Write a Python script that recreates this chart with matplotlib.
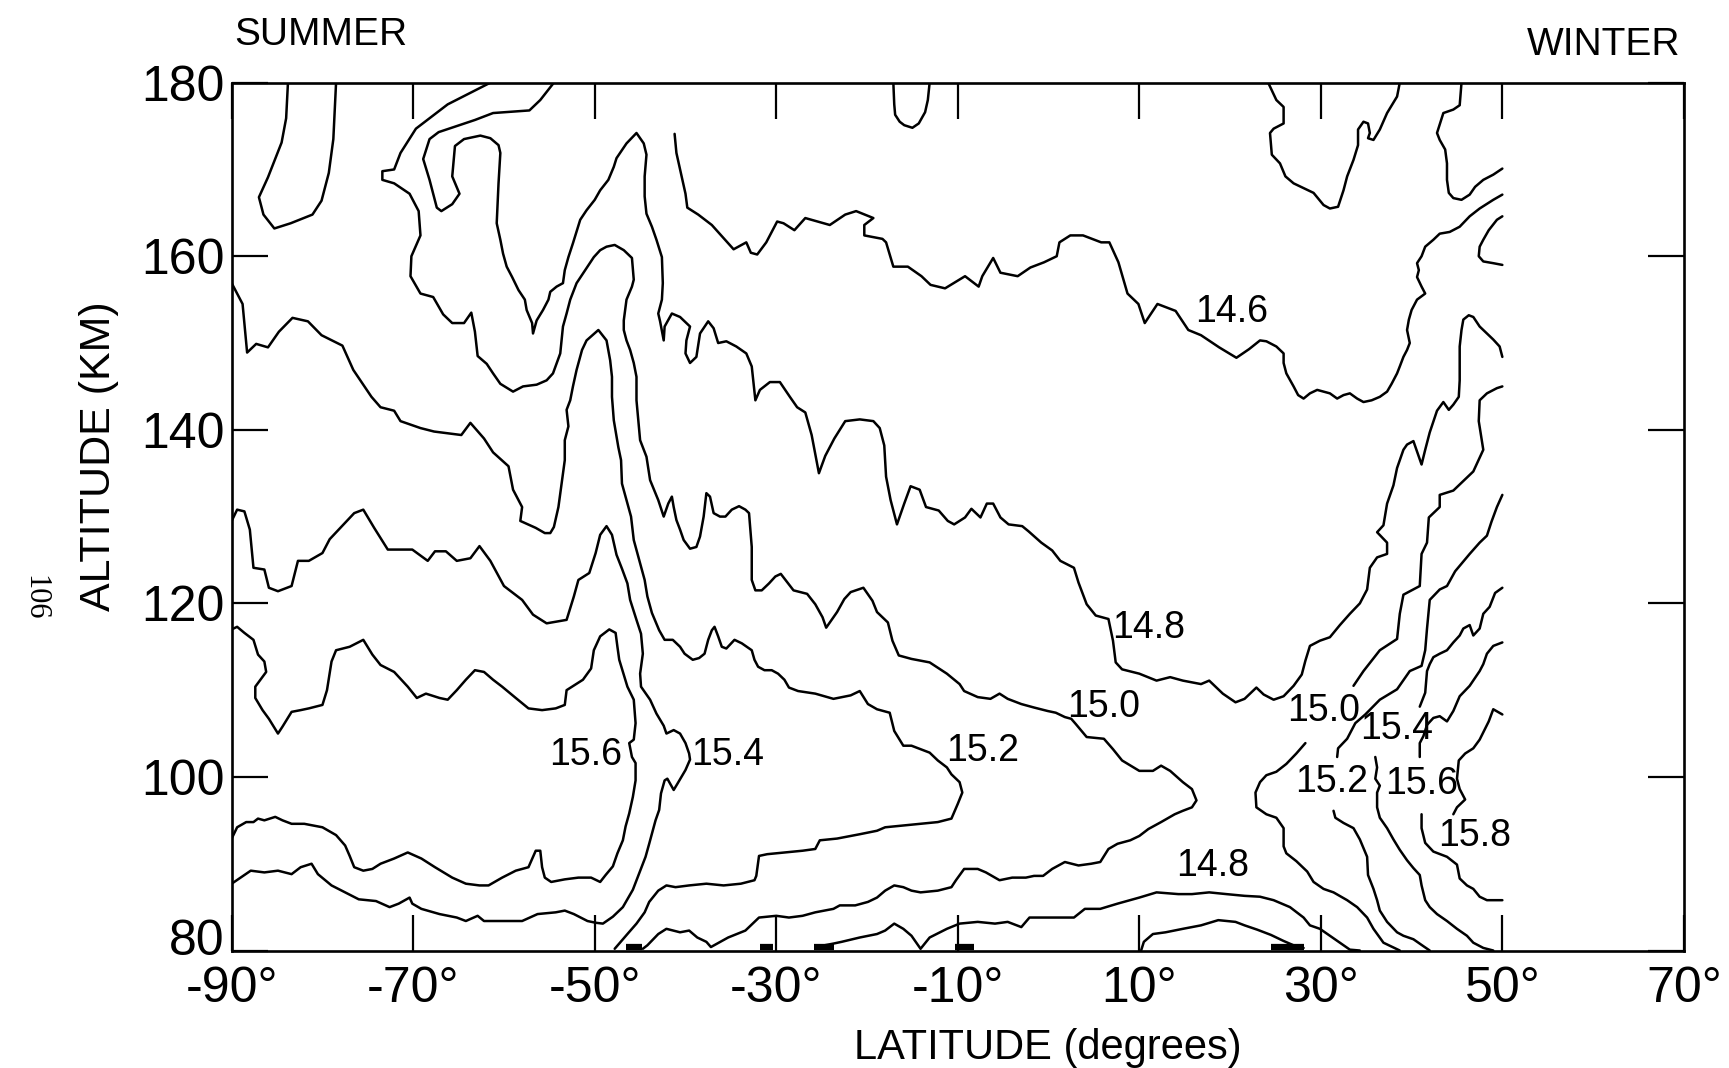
import matplotlib
matplotlib.use("Agg")
import matplotlib.pyplot as plt
import matplotlib.transforms as mtransforms

# ─── Contour traces (latitude deg, altitude km) ───────────────────────────

loop_top_left = [(-83.8, 180), (-84.0, 175.9), (-84.5, 173.1), (-86.0, 169.1), (-87.0, 166.8),
                 (-86.5, 164.8), (-85.3, 163.2), (-83.5, 163.8), (-81.1, 164.8), (-80.1, 166.4),
                 (-79.3, 169.6), (-78.8, 173.5), (-78.5, 180)]

loop_top_mid = [(-17.1, 180), (-17.0, 177.5), (-16.9, 176.3), (-16.4, 175.5), (-15.9, 175.1),
                (-15.0, 174.8), (-14.3, 175.3), (-13.6, 176.6), (-13.3, 178.0), (-13.1, 180)]

loop_top_30 = [(24.2, 180), (25.1, 178.0), (25.9, 177.2), (25.9, 175.3), (24.8, 174.7), (24.4, 174.2),
               (24.6, 171.7), (25.5, 170.7), (26.1, 169.2), (27.0, 168.4), (29.2, 167.3), (30.3, 165.9),
               (31.0, 165.5), (31.9, 165.7), (32.5, 167.6), (32.9, 169.2), (33.6, 171.1), (34.1, 172.8),
               (34.1, 174.6), (34.7, 175.5), (35.2, 175.3), (35.4, 174.2), (35.2, 173.6), (35.8, 173.4),
               (36.5, 174.6), (37.3, 176.5), (38.4, 178.4), (38.7, 180)]

loop_top_45 = [(45.5, 180), (45.3, 177.4), (44.6, 176.9), (43.5, 176.5), (42.8, 174.2), (43.1, 173.4),
               (43.7, 172.3), (43.9, 170.7), (43.9, 168.8), (44.1, 167.3), (44.6, 166.7), (45.5, 166.5),
               (46.4, 167.1), (47.0, 168.0), (47.9, 168.8), (49.0, 169.4), (50.0, 170.1)]

hook_50 = [(50.0, 164.6), (49.4, 164.2), (48.5, 163.0), (47.9, 161.9), (47.5, 161.1), (47.4, 160.0),
           (47.9, 159.4), (49.0, 159.2), (50.0, 159.0)]

c146 = [(-41.2, 174.1), (-41.0, 171.9), (-40.0, 167.2), (-39.8, 165.6), (-38.6, 164.8), (-37.1, 163.6),
        (-34.7, 160.8), (-33.3, 161.6), (-32.8, 160.4), (-32.1, 160.2), (-31.1, 161.6), (-29.9, 164.0),
        (-29.2, 163.8), (-28.0, 163.0), (-26.8, 164.4), (-24.1, 163.6), (-22.4, 164.8), (-21.2, 165.2),
        (-19.3, 164.4), (-20.3, 163.6), (-20.3, 162.4), (-18.3, 162.0), (-17.9, 161.6), (-17.1, 158.8),
        (-15.5, 158.8), (-14.0, 157.7), (-13.0, 156.7), (-11.4, 156.3), (-9.2, 157.7), (-7.7, 156.5),
        (-7.3, 157.7), (-6.1, 159.8), (-5.3, 158.1), (-3.4, 157.7), (-2.0, 158.7), (-0.5, 159.3),
        (0.9, 160.0), (1.2, 161.6), (2.4, 162.4), (3.8, 162.4), (5.8, 161.6), (6.7, 161.6), (7.7, 159.3),
        (8.7, 155.7), (9.9, 154.5), (10.6, 152.3), (12.0, 154.5), (14.0, 153.7), (15.4, 151.5),
        (16.8, 150.9), (18.8, 149.5), (20.7, 148.3), (22.1, 149.3), (23.3, 150.3), (24.0, 150.2),
        (25.1, 149.6), (25.9, 148.8), (25.9, 147.7), (26.2, 146.5), (27.0, 145.0), (27.5, 144.0),
        (28.1, 143.6), (28.8, 144.2), (29.6, 144.6), (30.3, 144.4), (31.0, 144.2), (31.8, 143.6),
        (32.5, 144.0), (33.2, 144.2), (34.0, 143.6), (34.7, 143.2), (35.6, 143.4), (36.5, 143.8),
        (37.3, 144.4), (37.8, 145.3), (38.4, 146.5), (38.7, 147.3), (39.1, 148.4), (39.5, 149.2),
        (39.8, 150.0), (39.5, 151.5), (39.7, 152.7), (40.0, 153.8), (40.6, 155.0), (41.5, 155.7),
        (41.1, 156.5), (40.6, 157.6), (40.8, 158.4), (40.6, 159.2), (41.1, 160.0), (41.5, 161.1),
        (42.4, 161.9), (43.1, 162.6), (44.2, 162.8), (45.3, 163.4), (46.4, 164.6), (47.5, 165.5),
        (49.0, 166.5), (50.0, 167.1)]

c148 = [(-54.5, 180), (-56.0, 178.0), (-57.2, 176.8), (-61.2, 176.5), (-63.2, 175.7), (-67.2, 174.3),
        (-68.2, 173.5), (-68.9, 171.2), (-68.2, 168.8), (-67.4, 165.6), (-66.9, 165.2), (-65.7, 166.0),
        (-64.9, 167.2), (-65.7, 169.2), (-65.4, 172.7), (-64.4, 173.5), (-62.6, 173.9), (-61.5, 173.6),
        (-60.6, 172.8), (-60.4, 171.9), (-60.6, 168.4), (-60.8, 163.8), (-60.4, 161.9), (-60.1, 160.3),
        (-59.7, 158.8), (-59.1, 157.6), (-58.4, 156.1), (-57.7, 155.0), (-57.5, 153.8), (-56.9, 152.3),
        (-56.8, 151.1), (-56.4, 152.6), (-55.7, 153.8), (-55.1, 155.0), (-54.9, 155.9), (-54.2, 156.5),
        (-53.5, 156.9), (-53.3, 158.4), (-52.9, 159.9), (-52.4, 161.5), (-51.6, 164.2), (-50.9, 165.3),
        (-50.0, 166.5), (-49.4, 167.6), (-48.5, 168.8), (-47.9, 170.3), (-47.6, 171.3), (-46.5, 173.0),
        (-45.4, 174.2), (-44.6, 173.0), (-44.3, 171.7), (-44.5, 169.2), (-44.5, 166.9), (-44.3, 164.9),
        (-43.7, 163.4), (-43.2, 161.9), (-42.6, 159.9), (-42.5, 156.9), (-42.6, 155.0), (-43.0, 153.4),
        (-42.8, 152.5), (-42.4, 150.3), (-42.3, 151.9), (-41.5, 153.4), (-40.6, 153.0), (-39.5, 151.9),
        (-39.9, 150.3), (-40.0, 148.8), (-39.5, 147.7), (-38.8, 148.4), (-38.4, 151.1), (-37.5, 152.5),
        (-36.9, 151.7), (-36.4, 150.0), (-35.5, 150.2), (-34.4, 149.6), (-33.3, 148.8), (-32.7, 147.3),
        (-32.3, 143.4), (-31.8, 144.6), (-30.7, 145.5), (-29.6, 145.5), (-28.5, 143.8), (-27.7, 142.6),
        (-26.8, 142.0), (-26.1, 139.4), (-25.3, 135.0), (-24.6, 137.0), (-23.6, 139.0), (-22.4, 141.0),
        (-20.8, 141.2), (-19.3, 141.0), (-18.6, 140.2), (-18.1, 138.2), (-17.9, 134.6), (-17.4, 131.9),
        (-16.7, 129.1), (-15.9, 131.5), (-15.2, 133.5), (-14.2, 133.1), (-13.5, 131.1), (-12.1, 130.7),
        (-11.1, 129.5), (-10.4, 129.1), (-9.2, 129.9), (-8.5, 130.9), (-7.5, 129.9), (-6.8, 131.5),
        (-6.1, 131.5), (-5.3, 129.9), (-4.4, 129.1), (-2.9, 128.9), (-2.2, 128.3), (-0.8, 127.0),
        (0.4, 126.1), (1.3, 124.9), (2.8, 124.1), (3.3, 122.4), (4.2, 119.9), (5.2, 118.6), (6.6, 118.2),
        (7.1, 115.7), (7.4, 113.2), (8.1, 112.4), (10.0, 111.9), (11.9, 111.1), (13.4, 111.5),
        (14.8, 111.1), (16.8, 110.7), (17.7, 111.1), (19.2, 109.6), (20.6, 108.6), (21.6, 109.0),
        (22.9, 110.3), (23.7, 109.5), (24.8, 108.9), (25.9, 109.3), (27.0, 110.5), (27.9, 111.8),
        (28.3, 113.4), (28.8, 115.1), (29.9, 115.7), (31.0, 116.1), (32.1, 117.5), (33.2, 118.8),
        (34.3, 120.0), (35.1, 121.6), (35.4, 124.1), (36.2, 125.3), (37.3, 125.7), (37.3, 127.0),
        (36.2, 128.2), (36.9, 129.0), (37.3, 131.5), (38.0, 133.6), (38.4, 135.6), (39.1, 137.7),
        (39.5, 138.3), (40.2, 138.7), (41.1, 136.0), (41.5, 137.7), (42.0, 139.7), (42.8, 142.2),
        (43.5, 143.2), (44.1, 142.3), (44.6, 142.9), (45.2, 143.8), (45.3, 145.7), (45.3, 149.6),
        (45.5, 151.5), (45.7, 152.7), (46.3, 153.2), (46.8, 153.0), (47.5, 151.9), (48.3, 151.1),
        (49.0, 150.4), (49.7, 149.6), (50.0, 148.4)]

c148_bottom = [(-25.7, 80.2), (-24.7, 80.6), (-23.7, 80.8), (-22.8, 81.0), (-20.8, 81.5), (-18.9, 81.9),
               (-18.0, 82.3), (-17.0, 83.1), (-16.0, 82.5), (-15.1, 81.7), (-14.1, 80.2), (-13.1, 81.5),
               (-11.2, 82.5), (-9.8, 83.1), (-7.8, 83.3), (-5.9, 83.1), (-4.5, 83.3), (-3.0, 82.7),
               (-2.1, 83.8), (-0.6, 83.8), (2.8, 83.8), (4.0, 84.8), (5.7, 84.8), (7.6, 85.4), (10.0, 86.1),
               (11.9, 86.7), (14.3, 86.5), (15.8, 86.5), (17.7, 86.7), (19.6, 86.5), (21.6, 86.3),
               (23.3, 86.2), (24.8, 85.8), (26.6, 85.0), (28.1, 83.8), (28.8, 82.9), (29.9, 82.5),
               (31.0, 81.7), (32.1, 80.9), (33.2, 80.1), (34.3, 80.0)]

c146_bottom = [(10.2, 80.0), (10.5, 81.0), (11.5, 81.9), (12.9, 82.1), (14.8, 82.5), (16.8, 82.9),
               (18.7, 83.5), (20.6, 83.3), (21.6, 82.9), (23.0, 82.4), (24.5, 81.8), (25.9, 81.1),
               (27.0, 80.6), (28.1, 80.3)]

c150_summer = [(-61.5, 180), (-66.2, 177.5), (-69.7, 174.7), (-71.4, 171.9), (-72.1, 170.0), (-73.4, 169.8),
               (-73.4, 168.8), (-72.1, 168.4), (-70.4, 167.2), (-69.4, 165.2), (-69.2, 162.4), (-70.2, 160.0),
               (-70.3, 157.7), (-69.2, 155.7), (-67.8, 155.3), (-66.7, 153.3), (-65.7, 152.3), (-64.4, 152.3),
               (-63.6, 153.5), (-63.2, 151.3), (-62.9, 148.5), (-61.9, 147.6), (-61.2, 146.5), (-60.4, 145.3),
               (-59.0, 144.4), (-57.9, 145.0), (-56.4, 145.2), (-55.3, 145.7), (-54.6, 146.5), (-53.8, 148.8),
               (-53.5, 151.9), (-53.1, 153.4), (-52.7, 155.0), (-52.0, 156.9), (-51.3, 158.0), (-50.1, 159.9),
               (-49.4, 160.7), (-48.7, 161.1), (-47.8, 161.3), (-46.8, 160.7), (-45.9, 159.8), (-45.7, 157.3),
               (-45.9, 156.5), (-46.5, 155.0), (-46.8, 152.6), (-46.8, 151.5), (-46.5, 150.3), (-46.1, 149.2),
               (-45.7, 147.7), (-45.4, 146.1), (-45.4, 143.4), (-45.2, 141.1), (-45.0, 138.8), (-44.3, 136.9),
               (-43.9, 134.2), (-43.0, 131.9), (-42.4, 130.0), (-41.9, 131.5), (-41.5, 132.3), (-41.3, 131.1),
               (-41.0, 129.6), (-40.6, 128.5), (-40.2, 127.3), (-39.5, 126.3), (-38.8, 126.5), (-38.4, 127.7),
               (-38.0, 130.0), (-37.7, 132.7), (-37.3, 132.3), (-36.9, 130.4), (-36.2, 130.0), (-35.6, 130.0),
               (-34.9, 130.8), (-34.1, 131.2), (-33.4, 130.8), (-33.0, 130.4), (-32.7, 126.5), (-32.7, 122.7),
               (-32.3, 121.5), (-31.6, 121.5), (-30.8, 122.3), (-30.1, 123.1), (-29.5, 123.4), (-28.1, 121.5),
               (-26.6, 121.1), (-25.7, 119.9), (-24.9, 118.4), (-24.5, 117.2), (-23.3, 119.0), (-22.5, 120.5),
               (-21.8, 121.3), (-20.4, 121.8), (-19.4, 120.3), (-18.9, 119.0), (-17.7, 117.8), (-17.2, 115.7),
               (-16.5, 114.0), (-15.1, 113.6), (-13.1, 113.2), (-11.2, 111.9), (-9.8, 110.7), (-9.3, 109.9),
               (-7.8, 109.2), (-6.4, 109.0), (-5.4, 109.6), (-4.5, 109.0), (-3.0, 108.4), (-1.6, 108.0),
               (-0.1, 107.6), (0.8, 107.4), (1.8, 106.9), (2.5, 106.7), (3.0, 106.1), (4.2, 104.6),
               (6.1, 104.4), (7.1, 103.2), (8.1, 101.9), (10.0, 100.7), (11.5, 100.7), (12.4, 101.3),
               (13.4, 100.7), (14.8, 99.4), (15.8, 98.6), (16.3, 97.3), (15.8, 96.5), (14.8, 96.1),
               (13.9, 95.7), (12.4, 94.8), (11.0, 94.0), (10.0, 93.2), (9.0, 92.7), (7.6, 92.3), (6.6, 91.7),
               (5.7, 90.2), (4.7, 90.0), (3.3, 89.8), (1.8, 90.2), (0.4, 89.4), (-0.6, 88.6), (-1.6, 88.6),
               (-2.5, 88.4), (-4.0, 88.4), (-5.4, 88.1), (-6.9, 89.0), (-7.8, 89.4), (-9.3, 89.4),
               (-10.2, 88.1), (-10.7, 87.3), (-12.2, 86.9), (-14.1, 86.7), (-15.1, 86.9), (-16.0, 87.3),
               (-17.0, 87.5), (-18.0, 86.9), (-18.9, 86.1), (-19.9, 85.6), (-21.3, 85.2), (-23.0, 85.2),
               (-23.7, 84.8), (-25.7, 84.4), (-27.1, 84.0), (-28.6, 83.8), (-30.0, 84.0), (-31.9, 83.8),
               (-33.4, 82.3), (-35.3, 81.5), (-37.2, 80.4), (-37.7, 81.0), (-38.7, 81.5), (-39.6, 82.3),
               (-40.6, 82.1), (-42.1, 82.5), (-43.0, 81.9), (-44.2, 80.6), (-44.7, 80.2)]

c152_summer = [(-90.0, 156.9), (-88.8, 154.5), (-88.3, 148.9), (-87.3, 149.9), (-86.0, 149.5), (-84.8, 151.3),
               (-83.3, 152.9), (-81.6, 152.5), (-80.1, 150.9), (-77.8, 149.7), (-76.6, 146.9), (-74.6, 143.8),
               (-73.6, 142.6), (-72.1, 142.2), (-71.4, 141.0), (-69.2, 140.2), (-67.7, 139.8), (-66.2, 139.6),
               (-64.7, 139.4), (-63.7, 140.8), (-62.2, 139.0), (-61.2, 137.4), (-59.5, 135.8), (-59.0, 133.1),
               (-58.0, 131.1), (-58.2, 129.5), (-56.5, 128.7), (-55.5, 128.1), (-54.9, 128.1), (-54.5, 128.8),
               (-54.0, 131.1), (-53.6, 134.2), (-53.3, 136.5), (-53.3, 138.8), (-52.9, 140.4), (-53.1, 142.3),
               (-52.7, 143.4), (-52.4, 145.0), (-52.0, 146.9), (-51.4, 149.2), (-50.9, 150.3), (-49.6, 151.5),
               (-48.7, 150.3), (-48.3, 148.0), (-48.1, 146.1), (-48.1, 143.8), (-47.9, 141.1), (-47.6, 139.2),
               (-47.4, 138.0), (-47.1, 136.5), (-47.0, 133.8), (-46.5, 131.9), (-46.0, 130.0), (-45.7, 127.3),
               (-45.1, 125.0), (-44.5, 122.7), (-44.2, 120.8), (-43.7, 118.9), (-42.9, 116.9), (-42.3, 115.8),
               (-41.4, 115.8), (-40.6, 115.0), (-40.1, 114.2), (-39.2, 113.5), (-38.5, 113.7), (-37.9, 114.2),
               (-37.5, 115.8), (-37.1, 116.9), (-36.8, 117.3), (-36.4, 116.2), (-36.0, 115.0), (-35.5, 114.8),
               (-34.6, 115.8), (-33.8, 115.4), (-32.7, 114.6), (-32.4, 113.5), (-32.0, 112.7), (-31.3, 112.3),
               (-30.5, 112.3), (-29.8, 111.9), (-29.1, 111.2), (-28.6, 110.3), (-27.6, 109.9), (-25.7, 109.6),
               (-23.7, 109.0), (-21.8, 109.4), (-20.8, 109.9), (-19.9, 108.4), (-18.9, 107.8), (-17.5, 107.4),
               (-17.0, 105.3), (-16.0, 103.6), (-15.1, 103.6), (-14.1, 103.2), (-13.1, 102.8), (-12.2, 101.9),
               (-11.2, 101.1), (-10.7, 100.3), (-9.8, 99.4), (-9.5, 98.2), (-10.0, 96.9), (-10.7, 95.2),
               (-12.2, 94.8), (-14.1, 94.6), (-16.0, 94.4), (-18.0, 94.2), (-18.9, 93.8), (-20.8, 93.4),
               (-23.3, 92.9), (-25.2, 92.7), (-25.7, 91.7), (-27.1, 91.5), (-29.0, 91.3), (-31.0, 91.1),
               (-31.9, 90.9), (-32.2, 88.6), (-32.4, 88.1), (-33.9, 87.7), (-35.8, 87.5), (-37.7, 87.7),
               (-39.6, 87.5), (-41.1, 87.3), (-42.1, 87.5), (-43.0, 86.9), (-44.0, 85.6), (-44.5, 84.4),
               (-45.4, 83.1), (-46.4, 81.9), (-47.8, 80.2)]

c154_summer = [(-90.0, 129.5), (-89.4, 130.8), (-88.6, 130.6), (-88.0, 128.5), (-87.6, 124.1), (-86.4, 123.9),
               (-85.9, 121.8), (-84.9, 121.4), (-83.4, 122.0), (-82.7, 124.9), (-81.5, 124.9), (-80.0, 125.8),
               (-79.2, 127.4), (-76.5, 130.4), (-75.5, 130.8), (-74.3, 128.7), (-72.8, 126.2), (-70.1, 126.2),
               (-68.4, 124.9), (-67.6, 126.0), (-66.4, 126.0), (-65.2, 124.9), (-63.7, 125.2), (-62.7, 126.6),
               (-61.5, 124.9), (-60.0, 122.0), (-58.0, 120.4), (-56.8, 118.7), (-55.3, 117.7), (-53.1, 118.1),
               (-52.3, 120.8), (-51.8, 122.7), (-50.6, 123.5), (-49.9, 125.8), (-49.4, 127.9), (-48.7, 128.9),
               (-48.1, 127.9), (-47.6, 125.6), (-47.0, 124.0), (-46.4, 122.3), (-46.1, 120.4), (-45.4, 118.1),
               (-44.9, 116.5), (-44.7, 114.2), (-45.0, 111.9), (-44.9, 110.4), (-43.9, 108.9), (-43.2, 107.3),
               (-42.4, 105.9), (-42.1, 105.0), (-41.3, 105.4), (-40.6, 105.0), (-40.0, 103.9), (-39.6, 102.7),
               (-39.5, 102.0), (-40.0, 100.8), (-40.9, 99.2), (-41.3, 98.5), (-42.0, 99.8), (-42.3, 99.6),
               (-42.7, 98.1), (-42.9, 96.2), (-43.3, 95.0), (-44.0, 92.3), (-44.4, 90.8), (-45.1, 88.9),
               (-45.8, 87.0), (-46.9, 85.0), (-48.0, 83.9), (-49.1, 83.1), (-49.9, 83.2), (-50.8, 83.4),
               (-52.3, 84.2), (-53.3, 84.6), (-54.3, 84.4), (-56.3, 84.2), (-58.0, 83.4), (-60.2, 83.4),
               (-62.2, 83.4), (-62.9, 84.0), (-64.2, 83.4), (-65.2, 83.8), (-67.1, 84.2), (-69.1, 84.8),
               (-70.1, 85.4), (-70.4, 86.1), (-71.6, 85.4), (-72.6, 85.0), (-74.1, 85.7), (-76.0, 85.9),
               (-77.5, 86.7), (-79.0, 87.5), (-80.5, 88.8), (-81.2, 90.0), (-82.4, 89.6), (-83.4, 88.8),
               (-84.9, 89.2), (-86.4, 89.0), (-87.9, 89.2), (-90.0, 87.7)]

c156_summer = [(-90.0, 117.0), (-89.4, 117.3), (-88.6, 116.6), (-87.6, 115.8), (-87.1, 114.1), (-86.4, 113.3),
               (-86.2, 112.1), (-87.4, 110.4), (-87.4, 109.1), (-86.6, 107.7), (-85.9, 106.7), (-84.9, 105.0),
               (-84.4, 105.8), (-83.4, 107.5), (-82.4, 107.7), (-81.5, 107.9), (-80.0, 108.3), (-79.5, 110.0),
               (-79.0, 113.3), (-78.5, 114.6), (-77.0, 115.0), (-75.5, 115.8), (-74.5, 114.1), (-73.6, 112.9),
               (-72.1, 112.1), (-70.6, 110.4), (-69.6, 109.1), (-68.6, 109.6), (-67.1, 109.1), (-66.2, 108.9),
               (-65.2, 110.0), (-64.2, 111.2), (-63.2, 112.3), (-62.2, 112.1), (-61.2, 111.2), (-60.2, 110.4),
               (-58.7, 109.1), (-57.3, 107.9), (-55.8, 107.7), (-54.3, 107.9), (-53.3, 108.3), (-53.1, 110.0),
               (-51.3, 111.2), (-50.4, 112.5), (-50.1, 114.6), (-49.4, 116.2), (-48.4, 117.0), (-47.7, 116.6),
               (-47.5, 115.0), (-47.3, 113.5), (-46.4, 110.4), (-45.7, 108.9), (-45.5, 106.2), (-45.7, 104.3),
               (-46.2, 103.9), (-45.9, 102.3), (-45.5, 101.6), (-45.5, 99.6), (-45.8, 97.7), (-46.2, 95.8),
               (-46.6, 94.3), (-46.9, 92.7), (-47.5, 91.2), (-48.0, 89.7), (-48.8, 88.7), (-49.4, 87.9),
               (-50.4, 88.4), (-51.8, 88.4), (-53.3, 88.2), (-54.8, 87.9), (-55.5, 88.4), (-55.8, 89.6),
               (-56.0, 91.5), (-56.5, 91.5), (-57.3, 89.6), (-58.7, 89.2), (-60.2, 88.4), (-61.7, 87.5),
               (-62.7, 87.5), (-64.2, 87.7), (-65.7, 88.4), (-67.6, 89.6), (-69.1, 90.6), (-70.6, 91.3),
               (-72.1, 90.6), (-73.6, 90.0), (-74.5, 89.4), (-75.5, 89.2), (-76.5, 89.6), (-77.0, 90.9),
               (-77.5, 92.1), (-78.5, 93.3), (-80.0, 94.2), (-82.0, 94.6), (-83.4, 94.6), (-84.4, 95.0),
               (-85.2, 95.4), (-86.4, 95.0), (-87.1, 95.2), (-87.6, 94.8), (-88.4, 94.8), (-89.4, 94.2),
               (-90.0, 92.9)]

c150_winter_up = [(33.6, 110.5), (34.7, 112.2), (36.5, 114.6), (38.4, 115.9), (38.7, 118.8), (39.1, 121.0),
                  (40.9, 122.0), (41.1, 125.7), (41.7, 127.0), (41.9, 129.9), (43.1, 131.1), (43.1, 132.5),
                  (44.6, 133.0), (46.8, 135.2), (47.9, 137.7), (47.4, 141.0), (47.5, 143.4), (48.3, 144.2),
                  (49.4, 144.8), (50.0, 145.0)]

c150_winter_low = [(28.3, 103.9), (27.3, 102.7), (26.2, 101.5), (25.1, 100.6), (24.0, 100.2), (23.3, 99.4),
                   (22.8, 98.2), (22.9, 96.5), (24.0, 95.7), (25.1, 95.3), (25.9, 94.1), (25.9, 92.0),
                   (26.2, 91.2), (27.3, 90.3), (28.5, 89.1), (29.2, 87.9), (30.3, 87.1), (31.4, 86.7),
                   (32.9, 85.8), (34.0, 85.0), (35.1, 83.8), (35.8, 82.5), (36.9, 80.9), (38.7, 80.0)]

c152_winter_up = [(31.8, 102.3), (31.9, 103.3), (32.9, 104.4), (33.8, 106.2), (34.9, 107.2), (36.5, 108.9),
                  (38.4, 110.1), (39.8, 112.2), (41.1, 112.8), (41.5, 114.6), (41.7, 117.1), (42.0, 120.4),
                  (43.1, 121.6), (43.9, 122.0), (44.8, 123.7), (46.4, 125.7), (47.5, 127.0), (48.3, 127.8),
                  (48.8, 129.4), (49.4, 131.1), (50.0, 132.5)]

c152_winter_low = [(31.4, 96.1), (31.6, 95.3), (32.5, 94.7), (33.6, 94.1), (34.3, 92.8), (35.1, 90.8),
                   (35.2, 88.7), (35.8, 87.1), (36.2, 85.8), (36.5, 84.6), (37.3, 83.3), (38.4, 82.1),
                   (39.1, 81.7), (40.2, 81.3), (41.3, 80.5), (42.0, 80.0)]

c154_winter_up = [(40.9, 108.1), (41.5, 109.7), (41.7, 112.2), (42.0, 113.0), (42.4, 113.8), (43.1, 114.2),
                  (43.9, 114.6), (44.6, 115.5), (45.3, 116.3), (45.7, 117.1), (46.4, 117.5), (46.8, 116.3),
                  (47.5, 117.1), (47.9, 118.8), (48.6, 119.6), (49.2, 121.2), (50.0, 121.8)]

c154_winter_low = [(36.0, 102.3), (36.2, 101.1), (36.0, 99.8), (36.5, 99.0), (36.2, 98.2), (36.2, 96.5),
                   (36.5, 95.3), (37.3, 94.1), (38.0, 92.8), (38.7, 91.6), (39.5, 90.4), (40.2, 89.5),
                   (40.9, 88.7), (41.1, 87.5), (41.5, 85.8), (42.0, 85.0), (42.8, 84.2), (43.9, 83.4),
                   (45.0, 82.5), (46.1, 81.7), (46.8, 80.9), (47.9, 80.3), (49.0, 80.0)]

c156_winter_up = [(40.9, 102.3), (40.9, 103.9), (41.3, 104.7), (41.7, 106.0), (42.4, 106.8), (43.1, 107.0),
                  (43.9, 106.4), (44.6, 107.6), (45.3, 109.3), (46.4, 110.5), (47.5, 112.2), (47.9, 113.0),
                  (48.3, 114.2), (49.0, 115.1), (50.0, 115.5)]

c156_winter_low = [(41.1, 95.7), (41.1, 94.1), (41.5, 92.4), (42.4, 91.4), (43.9, 90.8), (45.0, 89.9),
                   (45.3, 88.3), (46.1, 87.5), (46.8, 87.1), (47.5, 86.2), (48.3, 85.8), (50.0, 85.8)]

c158_winter = [(50.0, 107.2), (49.0, 107.8), (48.5, 106.4), (47.5, 104.3), (46.8, 103.3), (45.9, 102.7),
               (45.2, 101.9), (45.0, 99.8), (45.3, 98.6), (45.9, 97.4), (45.0, 96.5), (44.6, 95.7)]

# heavy ink blobs sitting on the bottom axis (start lat, end lat)
bottom_blobs = [(-46.5, -44.8), (-31.8, -30.4), (-25.8, -23.6), (-10.3, -8.2), (24.5, 28.2)]

# contour value labels and where they sit (lat, alt)
label_text = ["14.6", "14.8", "15.0", "15.2", "15.4", "15.6",
              "14.8", "15.0", "15.4", "15.2", "15.6", "15.8"]
label_lat = [20.2, 11.0, 6.1, -7.3, -35.4, -51.0, 18.1, 30.3, 38.3, 31.2, 41.1, 47.0]
label_alt = [153.6, 117.2, 108.1, 103.0, 102.5, 102.5, 89.7, 107.6, 105.5, 99.4, 99.2, 93.2]

xtick_values = [-90, -70, -50, -30, -10, 10, 30, 50, 70]
xtick_labels = ["-90°", "-70°", "-50°", "-30°", "-10°", "10°", "30°", "50°", "70°"]
ytick_values = [80, 100, 120, 140, 160, 180]

CONTOURS = [loop_top_left, loop_top_mid, loop_top_30, loop_top_45, hook_50,
            c146, c148, c148_bottom, c146_bottom, c150_summer, c152_summer,
            c154_summer, c156_summer, c150_winter_up, c150_winter_low,
            c152_winter_up, c152_winter_low, c154_winter_up, c154_winter_low,
            c156_winter_up, c156_winter_low, c158_winter]

NUM_FONT = ["Liberation Sans Narrow", "Liberation Sans", "DejaVu Sans"]
TXT_FONT = ["Liberation Sans", "DejaVu Sans"]

# ─── Figure ───────────────────────────────────────────────────────────────

fig = plt.figure(figsize=(17.29, 10.68), dpi=100)
ax = fig.add_axes([0.134, 0.110, 0.8399, 0.8126])

for pts in CONTOURS:
    lat, alt = zip(*pts)
    ax.plot(lat, alt, color="black", lw=1.8, solid_joinstyle="round",
            solid_capstyle="round")

for lo, hi in bottom_blobs:
    ax.plot([lo, hi], [80.35, 80.35], color="black", lw=4.5, solid_capstyle="butt")

for txt, x, y in zip(label_text, label_lat, label_alt):
    ax.text(x, y, txt, ha="center", va="center", fontsize=27, family=NUM_FONT)

ax.set_xlim(-90, 70)
ax.set_ylim(80, 180)
ax.set_xticks(xtick_values)
ax.set_xticklabels(xtick_labels, family=NUM_FONT, fontsize=36)
ax.set_yticks(ytick_values)
ax.set_yticklabels([str(v) for v in ytick_values], family=NUM_FONT, fontsize=36)
ax.tick_params(axis="both", direction="in", length=26, width=1.6,
               top=True, right=True, labeltop=False, labelright=False)
ax.tick_params(axis="x", pad=11)
ax.tick_params(axis="y", pad=5)
for sp in ax.spines.values():
    sp.set_linewidth(1.9)

# the bottom "80" sits a little above the axis line, clear of "-90°"
lift = mtransforms.ScaledTranslation(0, 10 / 72, fig.dpi_scale_trans)
bottom_label = ax.get_yticklabels()[0]
bottom_label.set_transform(bottom_label.get_transform() + lift)

fig.text(0.1353, 0.958, "SUMMER", ha="left", va="baseline", fontsize=28, family=TXT_FONT)
fig.text(0.9717, 0.9485, "WINTER", ha="right", va="baseline", fontsize=28, family=TXT_FONT)
fig.text(0.0573, 0.5726, "ALTITUDE (KM)", rotation=90, ha="center", va="center",
         fontsize=31, family=TXT_FONT)
fig.text(0.606, 0.0084, "LATITUDE (degrees)", ha="center", va="baseline",
         fontsize=30, family=TXT_FONT)
fig.text(0.02, 0.44, "106", rotation=-90, ha="center", va="center",
         fontsize=22, family=["Liberation Serif", "DejaVu Serif"])

fig.savefig("out.png", dpi=100)
